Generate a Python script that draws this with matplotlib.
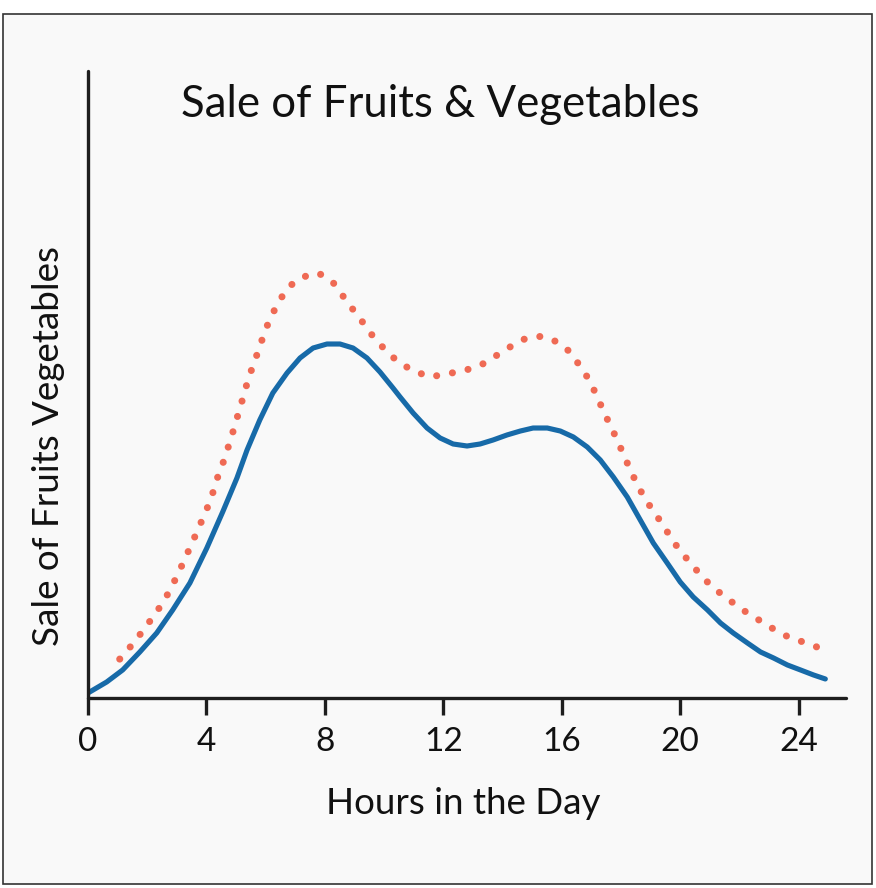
import matplotlib.pyplot as plt
from matplotlib.patches import Rectangle

plt.rcParams['font.family'] = ['Lato', 'DejaVu Sans']

# values (hour, sales)
blue_hours = [0, 0.63, 1.17, 1.75, 2.32, 2.86, 3.44, 4.01, 4.55, 5.03, 5.37,
              5.80, 6.24, 6.72, 7.16, 7.6, 8.07, 8.51, 8.95, 9.42, 9.86,
              10.3, 10.54, 10.98, 11.45, 11.89, 12.33, 12.80, 13.24, 13.68,
              14.15, 14.6, 15.03, 15.51, 15.95, 16.39, 16.86, 17.3, 17.74,
              18.21, 18.65, 19.09, 19.56, 20.0, 20.44, 20.92, 21.36, 21.79,
              22.27, 22.71, 23.15, 23.62, 24.06, 24.5, 24.9]
blue_sales = [0.8, 2.55, 4.47, 7.34, 10.37, 14.04, 18.34, 23.9, 29.7, 35.1,
              39.55, 44.34, 48.64, 51.83, 54.23, 55.82, 56.46, 56.46, 55.82,
              54.23, 52.0, 49.44, 48.0, 45.45, 43.06, 41.47, 40.51, 40.19,
              40.51, 41.15, 41.95, 42.58, 43.06, 43.06, 42.58, 41.63, 40.03,
              37.96, 35.25, 32.06, 28.39, 24.72, 21.53, 18.5, 16.11, 14.04,
              11.96, 10.37, 8.77, 7.34, 6.38, 5.26, 4.47, 3.67, 3.03]

red_hours = [1.07, 1.49, 1.85, 2.19, 2.53, 2.8, 3.07, 3.30, 3.54, 3.78, 4.01,
             4.22, 4.39, 4.59, 4.76, 4.93, 5.09, 5.26, 5.40, 5.6, 5.8, 5.97,
             6.21, 6.48, 6.78, 7.22, 7.77, 8.24, 8.58, 8.91, 9.25, 9.59, 10.0,
             10.47, 10.98, 11.55, 12.12, 12.70, 13.27, 13.82, 14.29, 14.8,
             15.34, 15.84, 16.28, 16.62, 16.93, 17.2, 17.43, 17.70, 17.94,
             18.18, 18.41, 18.68, 18.99, 19.33, 19.63, 19.97, 20.37, 20.78,
             21.22, 21.69, 22.16, 22.67, 23.15, 23.7, 24.24, 24.8]
red_sales = [6.2, 8.5, 10.7, 12.9, 15.2, 17.5, 20.1, 22.5, 25.0, 27.6, 30.1,
             32.8, 35.4, 37.9, 40.4, 43.0, 45.6, 48.3, 50.7, 53.4, 56.0, 58.5,
             61.1, 63.5, 65.6, 67.1, 67.8, 66.5, 64.3, 62.2, 60.1, 57.9, 55.7,
             53.6, 52.2, 51.2, 51.7, 52.2, 53.1, 54.7, 56.1, 57.4,
             57.7, 56.8, 55.2, 52.9, 50.7, 48.0, 45.5, 42.9, 40.4,
             37.8, 35.4, 32.9, 30.5, 28.2, 26.0, 23.6, 21.4, 19.1,
             17.2, 15.5, 13.9, 12.4, 11.0, 9.6, 8.8, 7.8]

xticks = [0, 4, 8, 12, 16, 20, 24]

fig = plt.figure(figsize=(8.76, 8.88), dpi=100, facecolor='white')
fig.patches.append(Rectangle((3 / 876, 1 - 884 / 888), 869 / 876, 870 / 888,
                             transform=fig.transFigure, facecolor='#f9f9f9',
                             edgecolor='#333333', linewidth=1.2, zorder=-5))

ax = fig.add_axes([0.1005, 0.214, 0.8653, 0.706])
ax.set_facecolor('none')
ax.set_zorder(2)

ax.plot(red_hours, red_sales, color='#ef6a54', linewidth=5.1,
        linestyle=(0, (0.01, 2.25)), dash_capstyle='round')
ax.plot(blue_hours, blue_sales, color='#176aa8', linewidth=3.7,
        solid_capstyle='round', solid_joinstyle='round')

ax.set_xlim(0, 25.6)
ax.set_ylim(0, 100)
ax.set_xticks(xticks)
ax.set_yticks([])
for s in ['top', 'right']:
    ax.spines[s].set_visible(False)
for s in ['left', 'bottom']:
    ax.spines[s].set_linewidth(2.4)
    ax.spines[s].set_color('#1e1e1e')
    ax.spines[s].set_capstyle('round')
ax.tick_params(axis='x', length=12, width=2.4, color='#1e1e1e',
               labelsize=24, pad=9, labelcolor='#111111')

fig.text(0.502, 0.882, 'Sale of Fruits & Vegetables', fontsize=31.5,
         ha='center', va='center', color='#111111')
fig.text(0.0548, 0.498, 'Sale of Fruits Vegetables', fontsize=26.5,
         rotation=90, ha='center', va='center', color='#111111')
fig.text(0.5285, 0.0957, 'Hours in the Day', fontsize=26.5,
         ha='center', va='center', color='#111111')

plt.savefig('out.png', dpi=100, facecolor='white')
